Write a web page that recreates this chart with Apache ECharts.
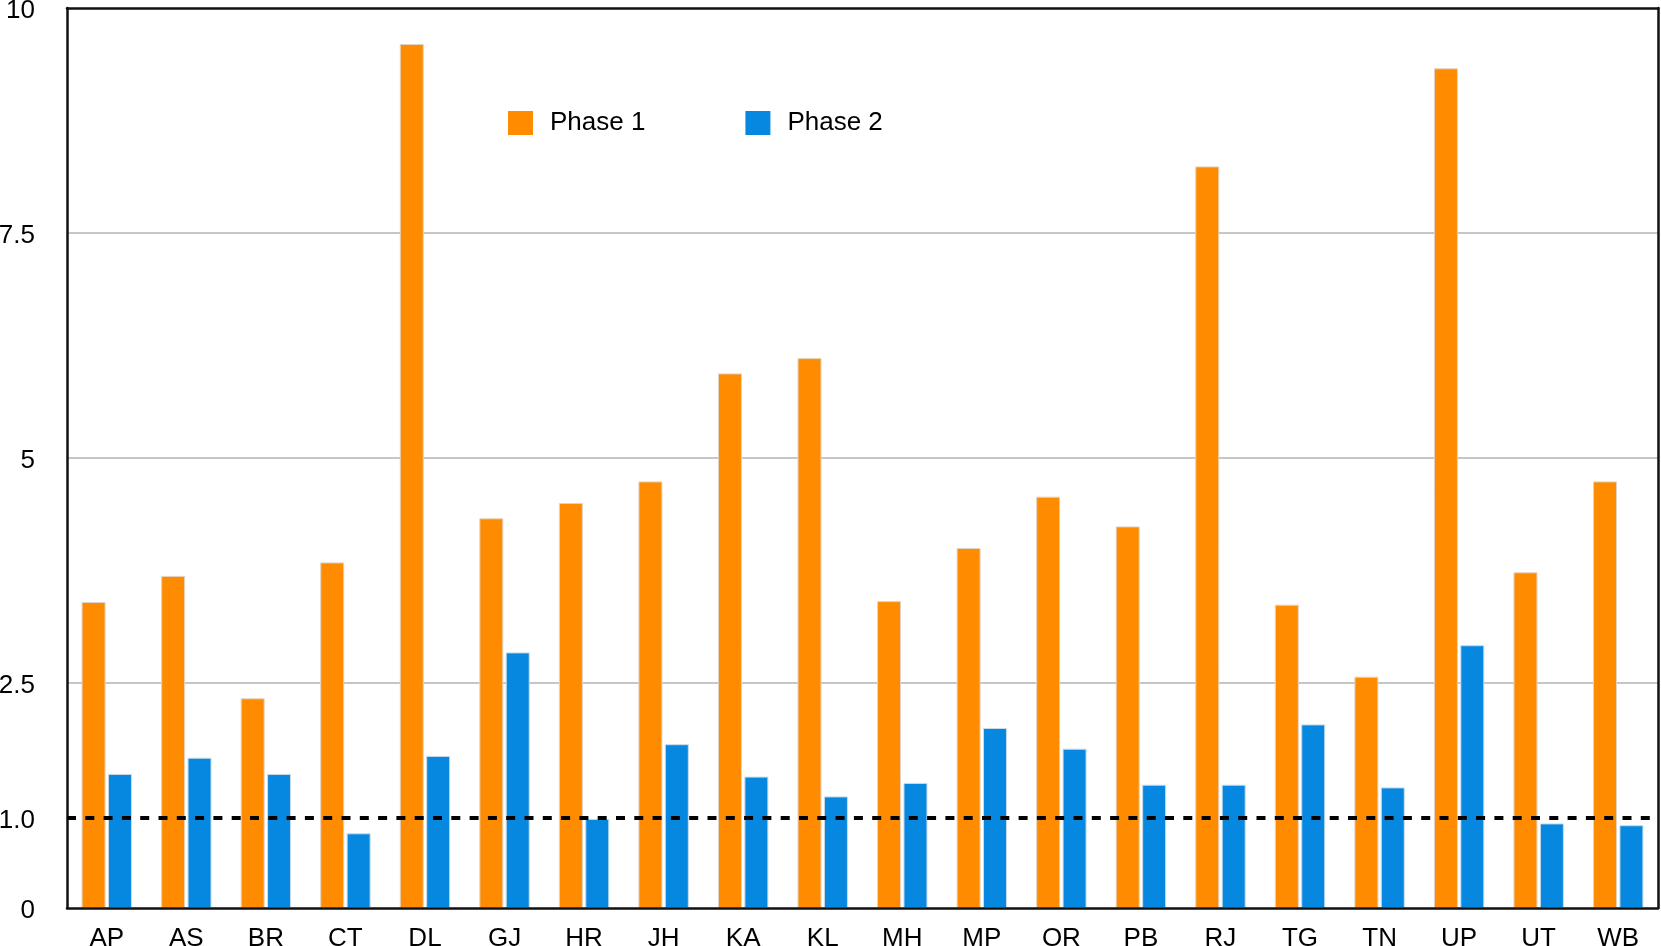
<!DOCTYPE html>
<html>
<head>
<meta charset="utf-8">
<script src="https://cdn.jsdelivr.net/npm/echarts@6/dist/echarts.min.js"></script>
<style>
html, body { margin: 0; padding: 0; background: #fff; }
#chart { width: 1661px; height: 946px; }
</style>
</head>
<body>
<div id="chart"></div>
<script>
const categories = ['AP','AS','BR','CT','DL','GJ','HR','JH','KA','KL','MH','MP','OR','PB','RJ','TG','TN','UP','UT','WB'];
const phase1 = [3.40, 3.69, 2.33, 3.84, 9.60, 4.33, 4.50, 4.74, 5.94, 6.11, 3.41, 4.00, 4.57, 4.24, 8.24, 3.37, 2.57, 9.33, 3.73, 4.74];
const phase2 = [1.49, 1.67, 1.49, 0.83, 1.69, 2.84, 0.99, 1.82, 1.46, 1.24, 1.39, 2.00, 1.77, 1.37, 1.37, 2.04, 1.34, 2.92, 0.94, 0.92];
const seriesNames = ['Phase 1', 'Phase 2'];
const yTickValues = [0, 1, 2.5, 5, 7.5, 10];
const yTickLabels = ['0', '1.0', '2.5', '5', '7.5', '10'];
const referenceValue = 1;

const FONT = '"Liberation Sans", Arial, Helvetica, sans-serif';
const frameStyle = { color: '#111', width: 2.5 };
const chart = echarts.init(document.getElementById('chart'), null, { renderer: 'canvas' });
chart.setOption({
  animation: false,
  backgroundColor: '#ffffff',
  textStyle: { fontFamily: FONT },
  grid: {
    left: 67, right: 3, top: 8, bottom: 38,
    containLabel: false, outerBoundsMode: 'none',
    show: false
  },
  legend: {
    data: seriesNames,
    left: 508, top: 110, padding: 0,
    itemWidth: 25, itemHeight: 24, itemGap: 100,
    icon: 'rect',
    itemStyle: { borderWidth: 0 },
    textStyle: { fontSize: 26, color: '#000', fontFamily: FONT, padding: [0, 0, 0, 12] }
  },
  xAxis: [
    {
      type: 'category',
      data: categories,
      z: 4,
      axisLine: { show: true, lineStyle: frameStyle },
      axisTick: { show: false },
      axisLabel: { fontSize: 26, color: '#000', margin: 18, fontFamily: FONT, interval: 0 },
      splitLine: { show: false }
    },
    {
      type: 'category', position: 'top',
      data: categories,
      z: 4,
      axisLine: { show: true, onZero: false, lineStyle: frameStyle },
      axisTick: { show: false },
      axisLabel: { show: false },
      splitLine: { show: false }
    }
  ],
  yAxis: [
    {
      type: 'value',
      min: 0, max: 10, interval: 2.5,
      z: 1,
      axisLine: { show: true, lineStyle: frameStyle },
      axisTick: { show: false },
      axisLabel: {
        fontSize: 26, color: '#000', margin: 32, fontFamily: FONT,
        verticalAlign: 'top', lineHeight: 5,
        customValues: yTickValues,
        formatter: function (v) {
          const i = yTickValues.indexOf(v);
          return i >= 0 ? yTickLabels[i] : String(v);
        }
      },
      splitLine: { show: true, showMinLine: false, showMaxLine: false, lineStyle: { color: '#c6c6c6', width: 2 } }
    },
    {
      type: 'value', position: 'right',
      min: 0, max: 10, interval: 2.5,
      z: 4,
      axisLine: { show: true, onZero: false, lineStyle: frameStyle },
      axisTick: { show: false },
      axisLabel: { show: false },
      splitLine: { show: false }
    }
  ],
  series: [
    {
      name: seriesNames[0], type: 'bar', data: phase1,
      barWidth: 24, barGap: '10%',
      itemStyle: { color: '#ff8c00', borderColor: '#e3d3c3', borderWidth: 1 }
    },
    {
      name: seriesNames[1], type: 'bar', data: phase2,
      barWidth: 24, barGap: '10%',
      itemStyle: { color: '#0788e0', borderColor: '#c9dcea', borderWidth: 1 },
      markLine: {
        silent: true, symbol: 'none',
        label: { show: false },
        lineStyle: { color: '#000', width: 4, type: [9, 9.3] },
        data: [{ yAxis: referenceValue }]
      }
    }
  ]
});
</script>
</body>
</html>
